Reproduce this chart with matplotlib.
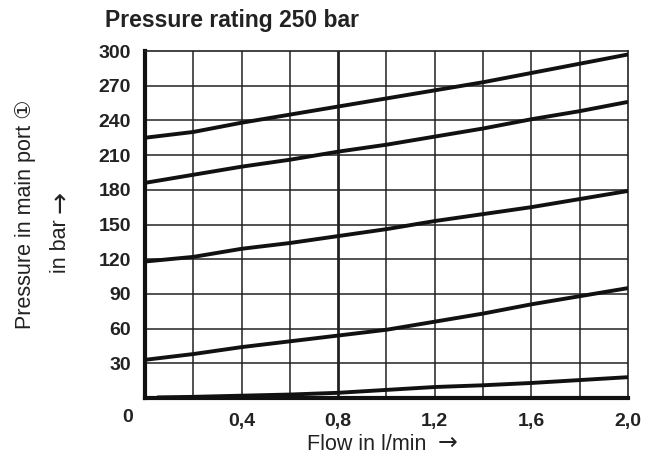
import matplotlib
matplotlib.use("Agg")
import matplotlib.pyplot as plt
from matplotlib import font_manager

flow = [0.0, 0.2, 0.4, 0.6, 0.8, 1.0, 1.2, 1.4, 1.6, 1.8, 2.0]
curve_225 = [225, 230, 238, 245, 252, 259, 266, 273, 281, 289, 297]
curve_186 = [186, 193, 200, 206, 213, 219, 226, 233, 241, 248, 256]
curve_118 = [118, 122, 129, 134, 140, 146, 153, 159, 165, 172, 179]
curve_33 = [33, 38, 44, 49, 54, 59, 66, 73, 81, 88, 95]
flow_low = [0.05, 0.2, 0.4, 0.6, 0.8, 1.0, 1.2, 1.4, 1.6, 1.8, 2.0]
curve_0 = [0.5, 1, 2, 3, 4.5, 7, 9.5, 11, 13, 15.5, 18]

xticks = [0.4, 0.8, 1.2, 1.6, 2.0]
xtick_labels = ["0,4", "0,8", "1,2", "1,6", "2,0"]
yticks = [30, 60, 90, 120, 150, 180, 210, 240, 270, 300]
ytick_labels = ["30", "60", "90", "120", "150", "180", "210", "240", "270", "300"]

names = {f.name for f in font_manager.fontManager.ttflist}
narrow = "Liberation Sans Narrow" if "Liberation Sans Narrow" in names else "Liberation Sans"
reg = ["Liberation Sans", "DejaVu Sans", "Noto Sans CJK JP"]

fig = plt.figure(figsize=(6.6, 4.57), dpi=100)
ax = fig.add_axes([0.2197, 0.1291, 0.7318, 0.7593])
ax.set_xlim(0, 2.0)
ax.set_ylim(0, 300)

for x in [0.2 * i for i in range(1, 10)]:
    lw = 2.0 if abs(x - 0.8) < 1e-6 else 1.1
    ax.axvline(x, color="#222222", lw=lw, zorder=1)
for y in yticks[:-1]:
    ax.axhline(y, color="#222222", lw=1.1, zorder=1)

for yy, xx in [(curve_225, flow), (curve_186, flow), (curve_118, flow), (curve_33, flow), (curve_0, flow_low)]:
    ax.plot(xx, yy, color="#111111", lw=2.8, zorder=3, solid_capstyle="butt")

for s in ["top", "right"]:
    ax.spines[s].set_linewidth(1.2)
    ax.spines[s].set_color("#222222")
for s in ["left", "bottom"]:
    ax.spines[s].set_linewidth(3.0)
    ax.spines[s].set_color("#111111")

ax.set_xticks(xticks)
ax.set_xticklabels(xtick_labels, fontfamily=narrow, fontweight="bold", fontsize=14)
ax.set_yticks(yticks)
ax.set_yticklabels(ytick_labels, fontfamily=narrow, fontweight="bold", fontsize=14)
ax.tick_params(length=0, colors="#222222")
ax.tick_params(axis="x", pad=11)
ax.tick_params(axis="y", pad=10)

fig.text(128 / 660, 1 - 418 / 457, "0", ha="center", va="center",
         fontfamily=narrow, fontweight="bold", fontsize=14, color="#222222")

fig.text(105 / 660, 1 - 20 / 457, "Pressure rating 250 bar", ha="left", va="center",
         fontfamily="Liberation Sans", fontweight="bold", fontsize=16.5, color="#222222")

# x axis label
fig.text(307 / 660, 1 - 445 / 457, "Flow in l/min", ha="left", va="center",
         family=reg, fontsize=15.5, color="#222222")
fig.text(438 / 660, 1 - 442.5 / 457, "\u2192", ha="left", va="center",
         family="DejaVu Sans", fontsize=17, color="#222222")

# y axis label
fig.text(26 / 660, 1 - 214 / 457, "Pressure in main port \u2460", ha="center", va="center",
         rotation=90, family=reg, fontsize=15.5, color="#222222")
fig.text(60 / 660, 1 - 273 / 457, "in bar", ha="center", va="bottom",
         rotation=90, family=reg, fontsize=15.5, color="#222222")
fig.text(61 / 660, 1 - 213 / 457, "\u2192", ha="center", va="bottom",
         rotation=90, family="DejaVu Sans", fontsize=19, color="#222222")

fig.savefig("out.png", dpi=100)
